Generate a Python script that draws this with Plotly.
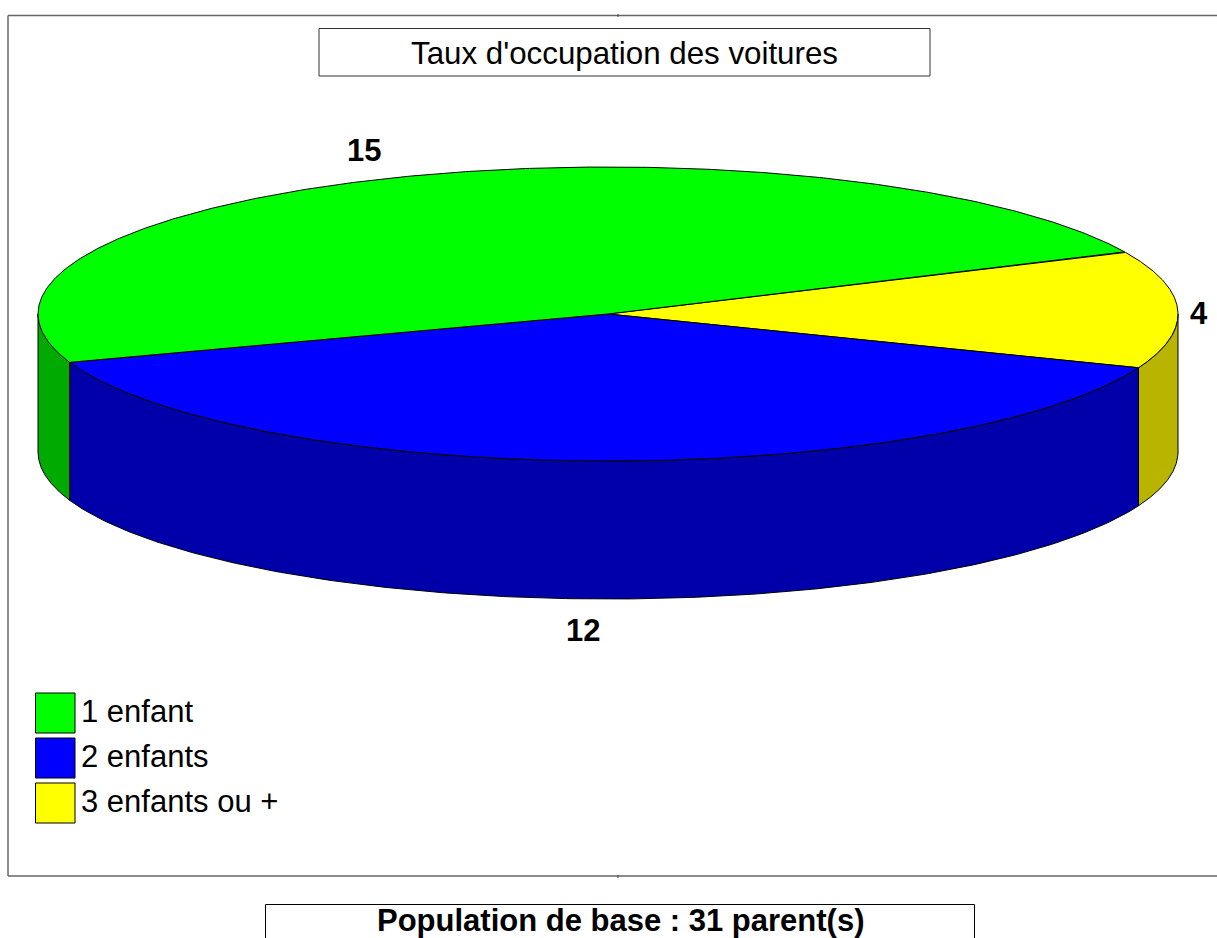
import numpy as np
import plotly.graph_objects as go

CATEGORIES = ["1 enfant", "2 enfants", "3 enfants ou +"]
VALUES = [15, 12, 4]
TOP_COLORS = ["#00FF00", "#0000FF", "#FFFF00"]
SIDE_COLORS = ["#00AA00", "#0000AA", "#B8B400"]
TITLE = "Taux d'occupation des voitures"
BASE = "Population de base : %d parent(s)" % sum(VALUES)

W, H = 1217, 938
CX, CY, RX, RY, DEPTH = 608, 314, 570, 147, 138
START_DEG = 25.0          # the yellow slice's upper edge; slices run clockwise
FONT = "Liberation Sans, Arial, sans-serif"
TEXT_SIZE = 31


def ex(t):
    return CX + RX * np.cos(np.radians(t))


def ey(t, d=0):
    return CY - RY * np.sin(np.radians(t)) + d


fig = go.Figure()

# slice angles (clockwise, yellow first, then blue, then green)
order = [2, 1, 0]
spans = {}
a = START_DEG
for i in order:
    b = a - VALUES[i] / sum(VALUES) * 360
    spans[i] = (a, b)
    a = b


def add_poly(xs, ys, fill):
    fig.add_trace(go.Scatter(
        x=xs, y=ys, mode="lines", fill="toself", fillcolor=fill,
        line=dict(color="black", width=1), hoverinfo="skip", showlegend=False))


# outer wall: only the front half (angles from 0 to -180) can be seen
for i in order:
    a, b = spans[i]
    hi_a, lo_a = min(a, 0), max(b, -180)
    if hi_a <= lo_a:
        continue
    t = np.linspace(hi_a, lo_a, 200)
    add_poly(np.r_[ex(t), ex(t[::-1]), ex(t[0])],
             np.r_[ey(t), ey(t[::-1], DEPTH), ey(t[0])], SIDE_COLORS[i])

# top face
for i in order:
    a, b = spans[i]
    t = np.linspace(a, b, 400)
    add_poly(np.r_[CX, ex(t), CX], np.r_[CY, ey(t), CY], TOP_COLORS[i])

FRAME = dict(color="#666666", width=1.5)
shapes = [
    # outer frame, open at the right edge of the page
    dict(type="line", x0=8, x1=W, y0=15.5, y1=15.5, line=FRAME),
    dict(type="line", x0=8, x1=W, y0=876, y1=876, line=FRAME),
    dict(type="line", x0=8, x1=8, y0=15.5, y1=876, line=FRAME),
    dict(type="line", x0=618, x1=618, y0=14, y1=17, line=dict(color="#444444", width=1)),
    dict(type="line", x0=618, x1=618, y0=875, y1=878, line=dict(color="#444444", width=1)),
    # title and base boxes
    dict(type="rect", x0=319, x1=930, y0=28.5, y1=76, line=dict(color="#333333", width=1)),
    dict(type="rect", x0=265.5, x1=974.5, y0=904.5, y1=960, line=dict(color="black", width=1)),
]
# legend swatches
SW_Y = [713, 758, 803]
for col, yc in zip(TOP_COLORS, SW_Y):
    shapes.append(dict(type="rect", x0=35.5, x1=75, y0=yc - 20, y1=yc + 20,
                       fillcolor=col, line=dict(color="black", width=1)))

ann = [
    dict(x=624, y=53, text=TITLE, size=31.3),
    dict(x=620.5, y=920, text="<b>%s</b>" % BASE, size=TEXT_SIZE),
    dict(x=364, y=150, text="<b>%d</b>" % VALUES[0], size=TEXT_SIZE),
    dict(x=583, y=630, text="<b>%d</b>" % VALUES[1], size=TEXT_SIZE),
    dict(x=1199, y=313, text="<b>%d</b>" % VALUES[2], size=TEXT_SIZE),
]
for cat, yc in zip(CATEGORIES, SW_Y):
    ann.append(dict(x=78.5, y=yc - 2, text=cat, xanchor="left", size=TEXT_SIZE))
for an in ann:
    size = an.pop("size")
    an.update(showarrow=False, xref="x", yref="y",
              font=dict(family=FONT, size=size, color="black"))

fig.update_layout(
    width=W, height=H, margin=dict(l=0, r=0, t=0, b=0), autosize=False,
    paper_bgcolor="white", plot_bgcolor="white", showlegend=False,
    xaxis=dict(range=[0, W], visible=False, fixedrange=True),
    yaxis=dict(range=[H, 0], visible=False, fixedrange=True),
    shapes=shapes, annotations=ann,
)
fig.write_html("out.html", config={"displayModeBar": False},
               post_script="document.body.style.margin='0';document.documentElement.style.overflow='hidden';")
